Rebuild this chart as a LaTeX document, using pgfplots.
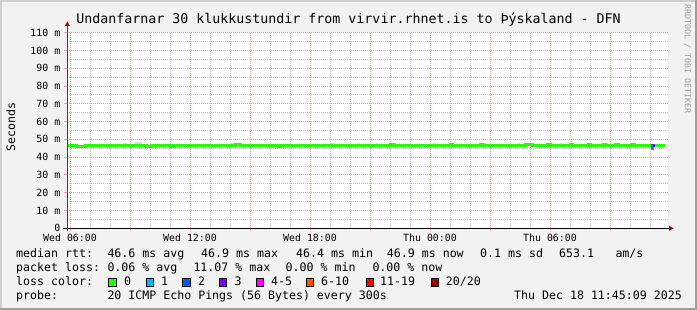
\documentclass[border=0pt]{standalone}
\usepackage{pgfplots}
\pgfplotsset{compat=1.18}
\usepackage{pgfplotstable}
\usepackage{fontspec}
\setmainfont{DejaVu Sans Mono}
\newcommand\tickfont{\fontsize{9.9}{10}\selectfont}
\newcommand\legfont{\fontsize{11.6}{12}\selectfont}
\newcommand\titlefont{\fontsize{13.3}{14}\selectfont}
\newcommand\wmfont{\fontsize{8.3}{9}\selectfont}
\definecolor{bgc}{HTML}{F2F2F2}
\definecolor{shadea}{HTML}{CFCFCF}
\definecolor{shadeb}{HTML}{9E9E9E}
\definecolor{mgrid}{HTML}{F4A0A0}
\definecolor{ngrid}{HTML}{C8C8C8}
\definecolor{arrowc}{HTML}{8B1414}
\definecolor{lc0}{HTML}{26FF00}
\definecolor{lc1}{HTML}{00B8FF}
\definecolor{lc2}{HTML}{0059FF}
\definecolor{lc3}{HTML}{7E00FF}
\definecolor{lc4}{HTML}{FF00FF}
\definecolor{lc6}{HTML}{FF5500}
\definecolor{lc11}{HTML}{FF0000}
\definecolor{lc20}{HTML}{A10000}
\definecolor{smoke}{HTML}{DADADA}
\definecolor{smokedark}{HTML}{707070}

\pgfplotstableread{
h med
5.865 46.6
6.33 46.0
6.75 46.6
9.83 46.1
10.08 46.6
11.08 46.1
11.2 46.6
14.25 47.0
14.5 46.6
16.4 46.1
16.5 46.6
22.0 47.1
22.15 46.6
25.0 47.1
25.1 46.6
26.5 47.1
26.65 46.6
28.75 47.1
29.1 46.6
29.85 47.1
30.0 46.6
31.0 47.1
31.1 46.6
31.9 47.1
32.0 46.6
32.65 47.1
32.75 46.6
33.25 47.1
33.4 46.6
34.1 47.1
34.2 46.6
35.05 46.6
}\medA

\pgfplotstableread{
h med
35.25 46.7
35.75 46.7
}\medB

\begin{document}
\begin{tikzpicture}[x=1pt,y=1pt]
\useasboundingbox (0,0) rectangle (697,310);
\fill[bgc] (0,0) rectangle (697,310);
\fill[shadea] (0,308) rectangle (697,310);
\fill[shadea] (0,0) rectangle (2,310);
\fill[shadeb] (0,0) rectangle (697,2);
\fill[shadeb] (695,0) rectangle (697,310);
\fill[white] (67.3,81.7) rectangle (668.3,277.3);

\begin{axis}[
  at={(67.3pt,81.7pt)}, anchor=south west,
  scale only axis, width=601pt, height=195.6pt,
  xmin=5.865, xmax=35.915, ymin=0, ymax=110,
  axis line style={draw=none},
  tick pos=left, tick align=outside,
  major tick length=3pt, minor tick length=0pt,
  tick style={draw=mgrid, line width=1pt},
  xtick={6,9,...,33},
  xticklabels={Wed 06:00,,Wed 12:00,,Wed 18:00,,Thu 00:00,,Thu 06:00,},
  minor xtick={7,8,10,11,13,14,16,17,19,20,22,23,25,26,28,29,31,32,34,35},
  ytick={0,10,...,110},
  yticklabels={0,10 m,20 m,30 m,40 m,50 m,60 m,70 m,80 m,90 m,100 m,110 m},
  minor ytick={5,15,...,105},
  grid=both,
  major grid style={draw=mgrid, line width=1pt, dash pattern=on 1pt off 1pt},
  minor grid style={draw=ngrid, line width=1pt, dash pattern=on 1pt off 1pt},
  xticklabel style={font=\tickfont, anchor=north, inner sep=0pt, yshift=-2.2pt},
  yticklabel style={font=\tickfont, anchor=east, inner sep=0pt, xshift=-3.8pt},
]
% smoke
\addplot[fill=smoke, draw=none] coordinates {(8.65,46.6) (8.65,48.0) (8.85,48.0) (8.85,46.6)} -- cycle;
\addplot[fill=smoke, draw=none] coordinates {(9.25,46.6) (9.25,48.3) (9.6,48.3) (9.6,46.6)} -- cycle;
\addplot[fill=smoke, draw=none] coordinates {(14.0,46.6) (14.0,48.1) (14.5,48.1) (14.5,46.6)} -- cycle;
\addplot[fill=smoke, draw=none] coordinates {(19.0,46.6) (19.0,48.2) (19.25,48.2) (19.25,46.6)} -- cycle;
\addplot[fill=smoke, draw=none] coordinates {(20.35,46.6) (20.35,48.1) (20.5,48.1) (20.5,46.6)} -- cycle;
\addplot[fill=smoke, draw=none] coordinates {(21.3,46.6) (21.3,48.1) (21.4,48.1) (21.4,46.6)} -- cycle;
\addplot[fill=smoke, draw=none] coordinates {(24.15,46.6) (24.15,48.1) (24.3,48.1) (24.3,46.6)} -- cycle;
\addplot[fill=smoke, draw=none] coordinates {(28.4,46.6) (28.4,48.0) (28.5,48.0) (28.5,46.6)} -- cycle;
\addplot[fill=smoke, draw=none] coordinates {(30.5,46.6) (30.5,48.0) (30.65,48.0) (30.65,46.6)} -- cycle;
\addplot[fill=smokedark, draw=none] coordinates {(35.05,44.3) (35.05,46.6) (35.2,46.6) (35.2,44.3)} -- cycle;
% median
\addplot[const plot, draw=lc0, line width=3pt, line cap=butt] table[x=h,y=med] {\medA};
\addplot[draw=lc2, line width=3pt, line cap=butt] coordinates {(35.05,46.6) (35.15,46.6)};
\addplot[draw=lc3, line width=3pt, line cap=butt] coordinates {(35.15,46.6) (35.25,46.6)};
\addplot[const plot, draw=lc0, line width=3pt, line cap=butt] table[x=h,y=med] {\medB};
\end{axis}

% axes lines and arrows
\draw[black, line width=1pt] (62.7,81.7) -- (669,81.7);
\fill[arrowc] (669,84.3) -- (673.8,81.7) -- (669,79.1) -- cycle;
\draw[black!75, line width=1pt] (67.3,78.5) -- (67.3,284);
\fill[arrowc] (64.7,284) -- (67.3,288.6) -- (69.9,284) -- cycle;

% title
\node[anchor=base, inner sep=0pt, font=\titlefont] at (348.5,286.5) {Undanfarnar 30 klukkustundir from virvir.rhnet.is to Þýskaland - DFN};
% y label
\node[rotate=90, anchor=center, inner sep=0pt, font=\legfont] at (10.8,183) {Seconds};
% watermark
\node[rotate=-90, anchor=center, inner sep=0pt, font=\wmfont, text=black!38] at (687.5,251) {RRDTOOL / TOBI OETIKER};

% legend
\begin{scope}[every node/.style={anchor=base west, inner sep=0pt, font=\legfont}]
\node at (16,52.3) {median rtt:};
\node at (107.3,52.3) {46.6 ms avg};
\node at (201,52.3) {46.9 ms max};
\node at (296,52.3) {46.4 ms min};
\node at (386.7,52.3) {46.9 ms now};
\node at (480,52.3) {0.1 ms sd};
\node at (559,52.3) {653.1};
\node at (615.3,52.3) {am/s};

\node at (16,38.3) {packet loss:};
\node at (107.3,38.3) {0.06 \% avg};
\node at (193.3,38.3) {11.07 \% max};
\node at (285.5,38.3) {0.00 \% min};
\node at (372.3,38.3) {0.00 \% now};

\node at (16,24.3) {loss color:};
\node at (124,24.3) {0};
\node at (161,24.3) {1};
\node at (198,24.3) {2};
\node at (234.5,24.3) {3};
\node at (271,24.3) {4-5};
\node at (321,24.3) {6-10};
\node at (380,24.3) {11-19};
\node at (445.7,24.3) {20/20};

\node at (16,10.5) {probe:};
\node at (107.3,10.5) {20 ICMP Echo Pings (56 Bytes) every 300s};
\node[anchor=base east] at (682,10.5) {Thu Dec 18 11:45:09 2025};
\end{scope}
\begin{scope}[line width=1pt]
\filldraw[fill=lc0, draw=black] (108.8,23.8) rectangle (116.2,31.2);
\filldraw[fill=lc1, draw=black] (146.2,23.8) rectangle (153.6,31.2);
\filldraw[fill=lc2, draw=black] (182.8,23.8) rectangle (190.2,31.2);
\filldraw[fill=lc3, draw=black] (219.5,23.8) rectangle (226.9,31.2);
\filldraw[fill=lc4, draw=black] (256.5,23.8) rectangle (263.9,31.2);
\filldraw[fill=lc6, draw=black] (306.5,23.8) rectangle (313.9,31.2);
\filldraw[fill=lc11, draw=black] (366.2,23.8) rectangle (373.6,31.2);
\filldraw[fill=lc20, draw=black] (431.2,23.8) rectangle (438.6,31.2);
\end{scope}
\end{tikzpicture}
\end{document}
